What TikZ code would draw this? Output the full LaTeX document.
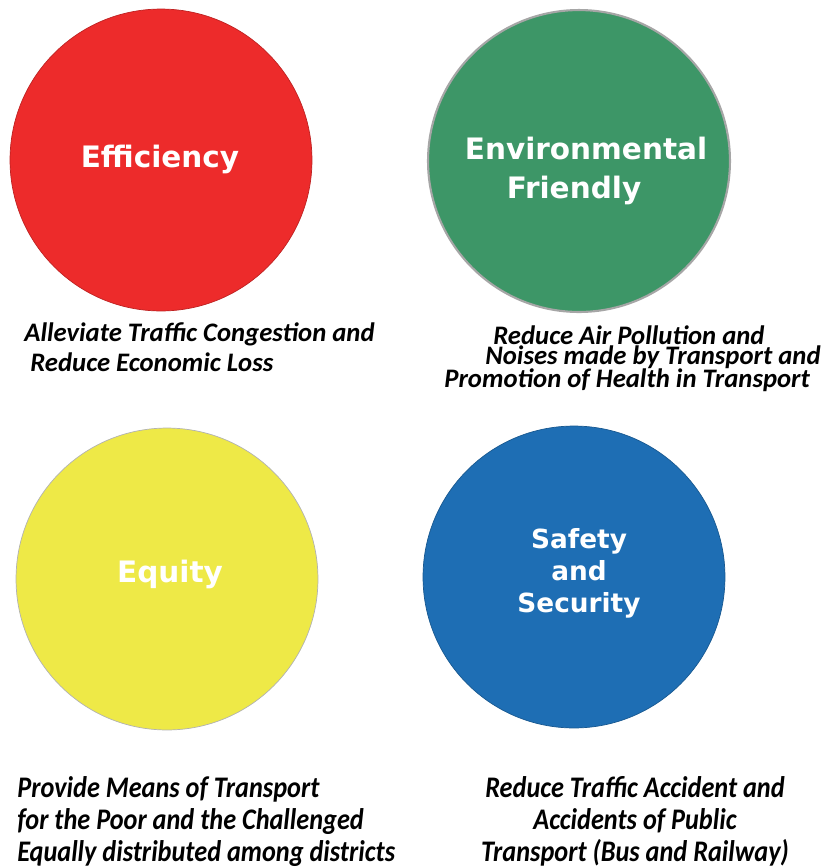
\documentclass[tikz,border=0pt]{standalone}
\usepackage{fontspec}
\setmainfont{Carlito}
\newfontfamily\goalfont{DejaVu Sans}
\definecolor{effred}{RGB}{237,43,43}
\definecolor{envgreen}{RGB}{61,150,103}
\definecolor{equyellow}{RGB}{238,233,71}
\definecolor{safblue}{RGB}{30,110,180}
\tikzset{
  goal/.style={circle,minimum size=6.04cm,inner sep=0pt},
  goallabel/.style={inner sep=0pt,text=white,align=center,
    font=\goalfont\bfseries\fontsize{16.8}{24}\selectfont},
  caption/.style={inner sep=0pt,anchor=west,font=\bfseries\itshape\fontsize{15.2}{16}\selectfont},
  bigcaption/.style={inner sep=0pt,xscale=0.88,font=\bfseries\itshape\fontsize{17}{18.3}\selectfont}
}

\begin{document}
\begin{tikzpicture}[x=0.02cm,y=-0.02cm]
\useasboundingbox (0,0) rectangle (821,867);
%\draw[help lines,step=50] (0,0) grid (821,867);
% the four goals
\node[goal,fill=effred,draw=effred!80!black,thin] (eff) at (161,160) {};
\node[goal,fill=envgreen,draw=gray!70,line width=1.2pt] (env) at (579,161) {};
\node[goal,fill=equyellow,draw=gray!60,thin] (equ) at (167,579) {};
\node[goal,fill=safblue,draw=safblue!80!black,thin] (saf) at (574,577) {};

\node[goallabel] (efflbl) at (160,159) {Efficiency};
\node[goallabel] (envlbl) at (586,148) {Environmental};
\node[goallabel] (envlblb) at (574,190) {Friendly};
\node[goallabel] (equlbl) at (170,574) {Equity};
\node[goallabel,font=\goalfont\bfseries\fontsize{15}{18.2}\selectfont] (saflbl) at (579,573)
    {Safety\\and\\Security};

% what each goal is about
\node[caption] (effa) at (24,334) {Alleviate Traffic Congestion and};
\node[caption] (effb) at (30,362) {Reduce Economic Loss};

\node[caption] (enva) at (493,335) {Reduce Air Pollution and};
\node[caption] (envb) at (485,357) {Noises made by Transport and};
\node[caption] (envc) at (444,380) {Promotion of Health in Transport};

\node[bigcaption,anchor=north west,align=left] (equa) at (17,776)
    {Provide Means of Transport\\for the Poor and the Challenged\\Equally distributed among districts};
\node[bigcaption,anchor=north,align=center] (safa) at (635,776)
    {Reduce Traffic Accident and\\Accidents of Public\\Transport (Bus and Railway)};
\end{tikzpicture}
\end{document}
